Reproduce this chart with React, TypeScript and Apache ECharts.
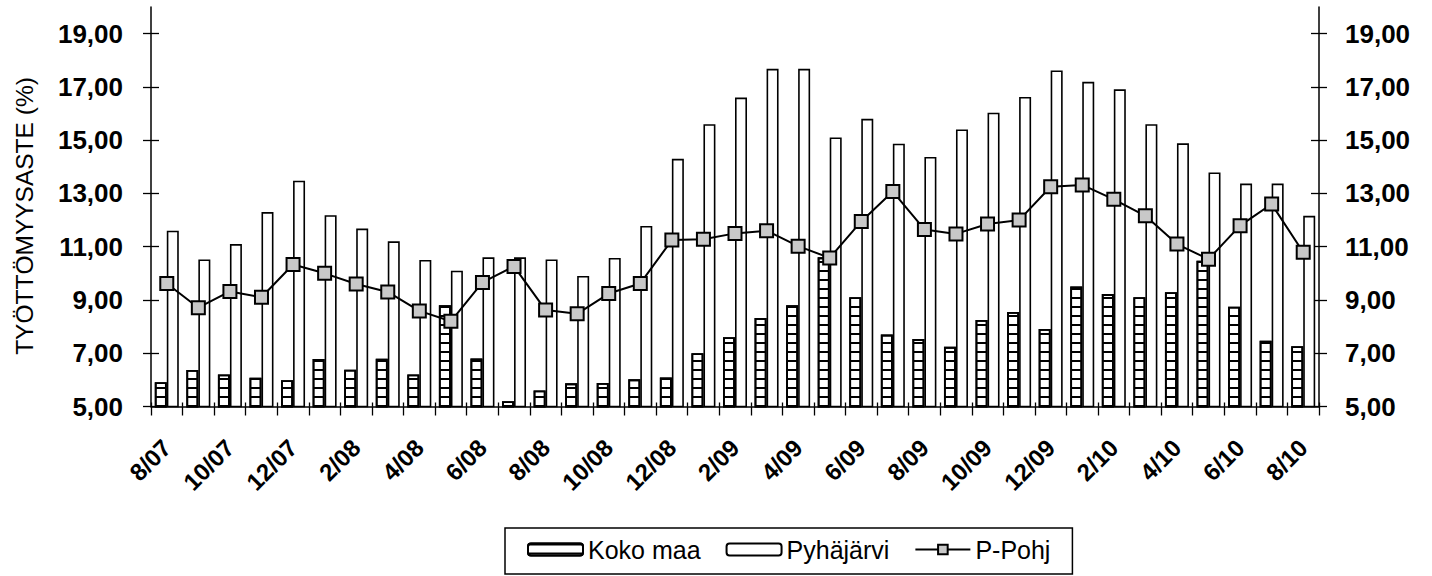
import React, { useEffect, useRef } from 'react';
import * as echarts from 'echarts';

const MONTHS = [
  '8/07', '9/07', '10/07', '11/07', '12/07', '1/08', '2/08', '3/08', '4/08', '5/08',
  '6/08', '7/08', '8/08', '9/08', '10/08', '11/08', '12/08', '1/09', '2/09', '3/09',
  '4/09', '5/09', '6/09', '7/09', '8/09', '9/09', '10/09', '11/09', '12/09', '1/10',
  '2/10', '3/10', '4/10', '5/10', '6/10', '7/10', '8/10',
];

const KOKO_MAA = [
  5.91, 6.37, 6.2, 6.08, 5.99, 6.78, 6.38, 6.79, 6.2, 8.8,
  6.8, 5.2, 5.6, 5.87, 5.88, 6.02, 6.09, 7.0, 7.6, 8.32,
  8.8, 10.6, 9.1, 7.7, 7.53, 7.24, 8.25, 8.55, 7.91, 9.51,
  9.22, 9.1, 9.29, 10.47, 8.75, 7.47, 7.26,
];

const PYHAJARVI = [
  11.6, 10.52, 11.1, 12.3, 13.48, 12.18, 11.68, 11.2, 10.5, 10.1,
  10.6, 10.6, 10.52, 9.9, 10.58, 11.78, 14.3, 15.6, 16.6, 17.68,
  17.68, 15.1, 15.8, 14.87, 14.37, 15.4, 16.03, 16.62, 17.62, 17.19,
  16.91, 15.6, 14.88, 13.79, 13.37, 13.37, 12.16,
];

const P_POHJ = [
  9.62, 8.71, 9.32, 9.1, 10.33, 10.0, 9.6, 9.3, 8.59, 8.2,
  9.66, 10.26, 8.62, 8.48, 9.24, 9.62, 11.25, 11.28, 11.5, 11.6,
  11.02, 10.58, 11.95, 13.07, 11.65, 11.48, 11.85, 12.0, 13.25, 13.32,
  12.78, 12.16, 11.1, 10.53, 11.79, 12.6, 10.79,
];

const Y_TICKS = [5, 7, 9, 11, 13, 15, 17, 19];
const Y_MIN = 5;
const Y_MAX = 20;
const Y_TITLE = 'TYÖTTÖMYYSASTE (%)';

const FONT = '"Liberation Sans", Arial, sans-serif';
const fmt = (v: number) => v.toFixed(2).replace('.', ',');

export default function App() {
  const ref = useRef<HTMLDivElement>(null);

  useEffect(() => {
    if (!ref.current) return;
    const chart = echarts.init(ref.current, null, { renderer: 'svg' });

    const baseY = {
      type: 'value' as const,
      min: Y_MIN,
      max: Y_MAX,
      splitLine: { show: false },
    };

    chart.setOption({
      animation: false,
      backgroundColor: '#fff',
      grid: { left: 151, right: 113, top: 7, bottom: 169.5, containLabel: false },
      legend: {
        data: ['Koko maa', 'Pyhäjärvi', 'P-Pohj'],
        left: 505,
        top: 528,
        itemWidth: 55,
        itemHeight: 12,
        itemGap: 25,
        borderColor: '#000',
        borderWidth: 1.5,
        padding: [9, 22, 12, 22],
        textStyle: { fontFamily: FONT, fontSize: 25, color: '#000' },
      },
      graphic: [
        {
          type: 'text',
          x: 24,
          y: 216,
          rotation: Math.PI / 2,
          style: {
            text: Y_TITLE,
            fontFamily: FONT,
            fontSize: 24.5,
            fill: '#000',
            align: 'center',
            verticalAlign: 'middle',
          },
        },
      ],
      xAxis: [
        {
          type: 'category',
          data: MONTHS,
          boundaryGap: true,
          axisLine: { show: true, lineStyle: { color: '#000', width: 1.5 } },
          axisTick: { show: true, interval: 0, length: 9, lineStyle: { color: '#000', width: 1.3 } },
          axisLabel: {
            interval: 1,
            rotate: 45,
            margin: 37,
            color: '#000',
            fontFamily: FONT,
            fontWeight: 'bold',
            fontSize: 24,
          },
        },
        {
          type: 'category',
          data: MONTHS,
          position: 'bottom',
          boundaryGap: true,
          axisLine: { show: false },
          axisTick: { show: true, inside: true, interval: 0, length: 4, lineStyle: { color: '#000', width: 1.3 } },
          axisLabel: { show: false },
        },
      ],
      yAxis: [
        {
          ...baseY,
          position: 'left',
          axisLine: { show: true, lineStyle: { color: '#000', width: 1.5 } },
          axisTick: { show: true, length: 8, customValues: Y_TICKS, lineStyle: { color: '#000', width: 1.3 } },
          axisLabel: {
            customValues: Y_TICKS,
            formatter: (v: number) => fmt(v),
            margin: 28,
            color: '#000',
            fontFamily: FONT,
            fontWeight: 'bold',
            fontSize: 26,
          },
        },
        {
          ...baseY,
          position: 'right',
          axisLine: { show: true, lineStyle: { color: '#000', width: 1.5 } },
          axisTick: { show: true, length: 8, customValues: Y_TICKS, lineStyle: { color: '#000', width: 1.3 } },
          axisLabel: {
            customValues: Y_TICKS,
            formatter: (v: number) => fmt(v),
            margin: 26,
            color: '#000',
            fontFamily: FONT,
            fontWeight: 'bold',
            fontSize: 26,
          },
        },
        {
          ...baseY,
          position: 'left',
          axisLine: { show: false },
          axisTick: { show: true, inside: true, length: 8, customValues: Y_TICKS, lineStyle: { color: '#000', width: 1.3 } },
          axisLabel: { show: false },
        },
        {
          ...baseY,
          position: 'right',
          axisLine: { show: false },
          axisTick: { show: true, inside: true, length: 8, customValues: Y_TICKS, lineStyle: { color: '#000', width: 1.3 } },
          axisLabel: { show: false },
        },
      ],
      series: [
        {
          name: 'Koko maa',
          type: 'bar',
          data: KOKO_MAA,
          barWidth: 12,
          barGap: '0%',
          itemStyle: {
            color: '#fff',
            borderColor: '#000',
            borderWidth: 1.8,
            decal: {
              symbol: 'rect',
              symbolSize: 1,
              color: '#000',
              backgroundColor: '#fff',
              dashArrayX: [1, 0],
              dashArrayY: [1.4, 6.6],
              rotation: 0,
            },
          },
        },
        {
          name: 'Pyhäjärvi',
          type: 'bar',
          data: PYHAJARVI,
          barWidth: 12,
          barGap: '0%',
          itemStyle: { color: '#fff', borderColor: '#000', borderWidth: 1.6 },
        },
        {
          name: 'P-Pohj',
          type: 'line',
          data: P_POHJ,
          z: 5,
          symbol: 'rect',
          symbolSize: 13,
          lineStyle: { color: '#000', width: 2 },
          itemStyle: { color: '#c8c8c8', borderColor: '#000', borderWidth: 2 },
        },
      ],
    });

    return () => chart.dispose();
  }, []);

  return (
    <div
      ref={ref}
      style={{ position: 'fixed', left: 0, top: 0, width: 1432, height: 576, background: '#fff' }}
    />
  );
}
